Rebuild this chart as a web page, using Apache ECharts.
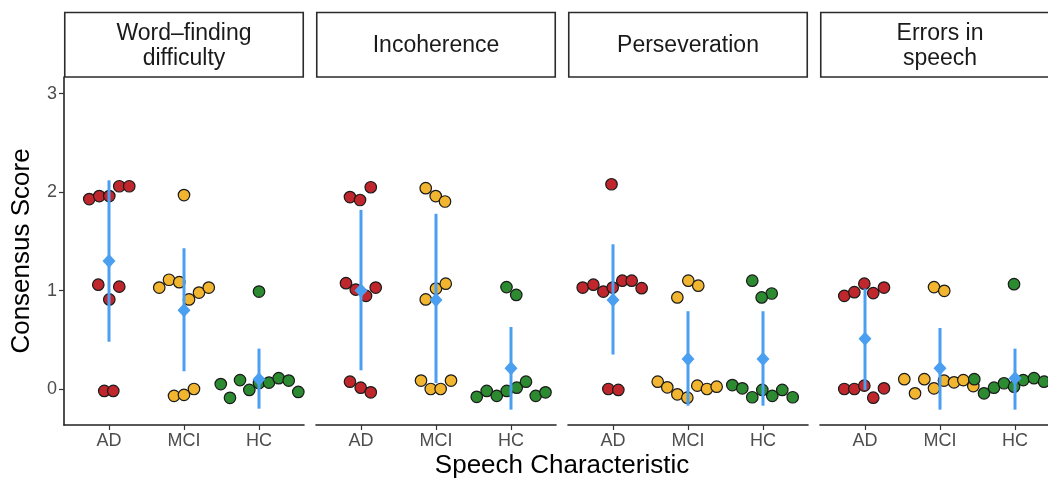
<!DOCTYPE html>
<html>
<head>
<meta charset="utf-8">
<script src="https://cdn.jsdelivr.net/npm/echarts@6/dist/echarts.min.js"></script>
<style>
html,body{margin:0;padding:0;background:#fff;}
#chart{width:1048px;height:483px;}
</style>
</head>
<body>
<div id="chart"></div>
<script>
// ---------------- DATA ----------------
const categories = ['AD', 'MCI', 'HC'];
const panelTitles = ['Word\u2013finding\ndifficulty', 'Incoherence', 'Perseveration', 'Errors in\nspeech'];
const yTicks = [0, 1, 2, 3];
const yTitle = 'Consensus Score';
const xTitle = 'Speech Characteristic';

// points: [jitter offset from group centre, consensus score]
const wordAD = [[-0.263,1.93],[-0.13,1.96],[0.004,1.96],[0.137,2.06],[0.27,2.06],[-0.143,1.06],[0.137,1.04],[0.004,0.91],[-0.063,-0.02],[0.057,-0.02]];
const wordMCI = [[0,1.97],[-0.33,1.03],[-0.2,1.11],[-0.063,1.085],[0.067,0.91],[0.2,0.98],[0.33,1.03],[-0.133,-0.07],[0,-0.06],[0.133,0.0]];
const wordHC = [[0,0.99],[-0.51,0.05],[-0.387,-0.09],[-0.253,0.09],[-0.129,-0.01],[0,0.06],[0.133,0.065],[0.263,0.11],[0.396,0.085],[0.524,-0.03]];
const wordMean = [1.3, 0.8, 0.1];
const wordLow = [0.48, 0.18, -0.2];
const wordHigh = [2.12, 1.43, 0.41];

const incoAD = [[-0.147,1.95],[-0.013,1.92],[0.13,2.05],[-0.2,1.075],[-0.07,1.01],[0.067,0.946],[0.196,1.03],[-0.147,0.074],[-0.004,0.013],[0.13,-0.034]];
const incoMCI = [[-0.137,2.04],[-0.004,1.96],[0.12,1.905],[0,1.02],[0.13,1.07],[-0.137,0.91],[-0.2,0.085],[-0.07,0],[0.062,0],[0.2,0.085]];
const incoHC = [[-0.06,1.035],[0.07,0.956],[-0.457,-0.08],[-0.324,-0.02],[-0.19,-0.07],[-0.057,-0.02],[0.076,0.013],[0.2,0.074],[0.33,-0.07],[0.46,-0.034]];
const incoMean = [1.0, 0.905, 0.21];
const incoLow = [0.19, 0.06, -0.21];
const incoHigh = [1.82, 1.78, 0.63];

const persAD = [[-0.02,2.08],[-0.404,1.03],[-0.262,1.06],[-0.129,0.99],[-0.004,1.03],[0.124,1.10],[0.249,1.10],[0.382,1.024],[-0.062,0],[0.071,-0.01]];
const persMCI = [[0.004,1.10],[0.137,1.05],[-0.142,0.93],[-0.404,0.074],[-0.276,0.017],[-0.142,-0.054],[-0.009,-0.088],[0.124,0.034],[0.253,0],[0.382,0.023]];
const persHC = [[-0.143,1.10],[0.116,0.97],[-0.018,0.93],[-0.409,0.04],[-0.276,0.007],[-0.143,-0.084],[-0.009,-0.01],[0.124,-0.07],[0.257,-0.01],[0.396,-0.084]];
const persMean = [0.905, 0.305, 0.305];
const persLow = [0.35, -0.17, -0.17];
const persHigh = [1.47, 0.79, 0.79];

const errsAD = [[-0.276,0.946],[-0.142,0.984],[-0.009,1.07],[0.11,0.974],[0.253,1.03],[-0.276,0],[-0.142,0],[-0.009,0.034],[0.11,-0.088],[0.253,0.007]];
const errsMCI = [[-0.08,1.035],[0.057,0.997],[-0.476,0.10],[-0.333,-0.044],[-0.209,0.10],[-0.08,0.007],[0.053,0.085],[0.187,0.068],[0.311,0.09],[0.444,0.03]];
const errsHC = [[-0.013,1.065],[-0.543,0.10],[-0.413,-0.044],[-0.28,0.013],[-0.147,0.058],[-0.013,0.023],[0.11,0.09],[0.253,0.11],[0.387,0.074],[0.52,0.08]];
const errsMean = [0.51, 0.21, 0.11];
const errsLow = [-0.01, -0.21, -0.21];
const errsHigh = [1.02, 0.62, 0.41];

const panelPoints = [[wordAD, wordMCI, wordHC],[incoAD, incoMCI, incoHC],[persAD, persMCI, persHC],[errsAD, errsMCI, errsHC]];
const panelMean = [wordMean, incoMean, persMean, errsMean];
const panelLow = [wordLow, incoLow, persLow, errsLow];
const panelHigh = [wordHigh, incoHigh, persHigh, errsHigh];

// ---------------- STYLE / LAYOUT ----------------
const groupColors = ['#c0272d', '#f2b52f', '#2c8a31'];
const blue = '#4a9ff0';
const FONT = '"Liberation Sans", Arial, Helvetica, sans-serif';
const panelLeft0 = 64, panelStep = 252, panelW = 240;
const panelTop = 77, panelBottom = 425;
const stripTop = 12.5;

const grids = [], xAxes = [], yAxes = [], series = [], graphics = [];
for (let p = 0; p < 4; p++) {
  const left = panelLeft0 + p * panelStep;
  grids.push({left: left, top: panelTop, width: panelW, height: panelBottom - panelTop, outerBoundsMode: 'none', containLabel: false});
  xAxes.push({
    gridIndex: p, type: 'value', min: 0.4, max: 3.6, position: 'bottom',
    axisLine: {show: true, onZero: false, lineStyle: {color: '#222', width: 1.6}},
    axisTick: {show: true, customValues: [1,2,3], length: 5, lineStyle: {color: '#333', width: 1.2}},
    axisLabel: {show: true, customValues: [1,2,3], formatter: v => categories[Math.round(v) - 1],
      color: '#4d4d4d', fontSize: 18, fontFamily: FONT, margin: 7},
    splitLine: {show: false}
  });
  yAxes.push({
    gridIndex: p, type: 'value', min: -0.366, max: 3.17, position: 'left',
    show: p === 0,
    axisLine: {show: true, onZero: false, lineStyle: {color: '#222', width: 1.6}},
    axisTick: {show: true, customValues: yTicks, length: 5, lineStyle: {color: '#333', width: 1.2}},
    axisLabel: {show: true, customValues: yTicks, color: '#4d4d4d', fontSize: 18, fontFamily: FONT, margin: 7},
    splitLine: {show: false}
  });
  for (let g = 0; g < 3; g++) {
    series.push({
      type: 'scatter', xAxisIndex: p, yAxisIndex: p, clip: false,
      symbol: 'circle', symbolSize: 11.5,
      itemStyle: {color: groupColors[g], borderColor: '#1a1a1a', borderWidth: 1.2, opacity: 1},
      data: panelPoints[p][g].map(d => [g + 1 + d[0], d[1]]),
      z: 2, silent: true
    });
  }
  series.push({
    type: 'custom', xAxisIndex: p, yAxisIndex: p, clip: false, z: 3, silent: true,
    data: categories.map((c, g) => [g + 1, panelLow[p][g], panelHigh[p][g]]),
    encode: {x: 0, y: [1, 2]},
    renderItem: (params, api) => {
      const x = api.value(0);
      const a = api.coord([x, api.value(1)]);
      const b = api.coord([x, api.value(2)]);
      return {type: 'line', shape: {x1: a[0], y1: a[1], x2: b[0], y2: b[1]}, style: {stroke: blue, lineWidth: 3}};
    }
  });
  series.push({
    type: 'scatter', xAxisIndex: p, yAxisIndex: p, clip: false, z: 4, silent: true,
    symbol: 'diamond', symbolSize: [13, 14],
    itemStyle: {color: blue, opacity: 1},
    data: categories.map((c, g) => [g + 1, panelMean[p][g]])
  });
  graphics.push({
    type: 'rect', silent: true,
    shape: {x: left + 0.75, y: stripTop, width: panelW - 1.5, height: panelTop - stripTop},
    style: {fill: '#fff', stroke: '#2b2b2b', lineWidth: 1.6}
  });
  graphics.push({
    type: 'text', silent: true,
    x: left + panelW / 2, y: (stripTop + panelTop) / 2 + 1,
    style: {text: panelTitles[p], font: '23px ' + FONT, fill: '#1a1a1a', align: 'center', verticalAlign: 'middle', lineHeight: 25}
  });
}
graphics.push({
  type: 'text', silent: true, x: 22, y: (panelTop + panelBottom) / 2, rotation: Math.PI / 2,
  style: {text: yTitle, font: '26px ' + FONT, fill: '#000', align: 'center', verticalAlign: 'middle'}
});
graphics.push({
  type: 'text', silent: true, x: (panelLeft0 + 3 * panelStep + panelW + panelLeft0) / 2, y: 466,
  style: {text: xTitle, font: '26px ' + FONT, fill: '#000', align: 'center', verticalAlign: 'middle'}
});

const chart = echarts.init(document.getElementById('chart'), null, {renderer: 'canvas'});
chart.setOption({
  animation: false,
  backgroundColor: '#fff',
  grid: grids, xAxis: xAxes, yAxis: yAxes, series: series, graphic: graphics
});
</script>
</body>
</html>
